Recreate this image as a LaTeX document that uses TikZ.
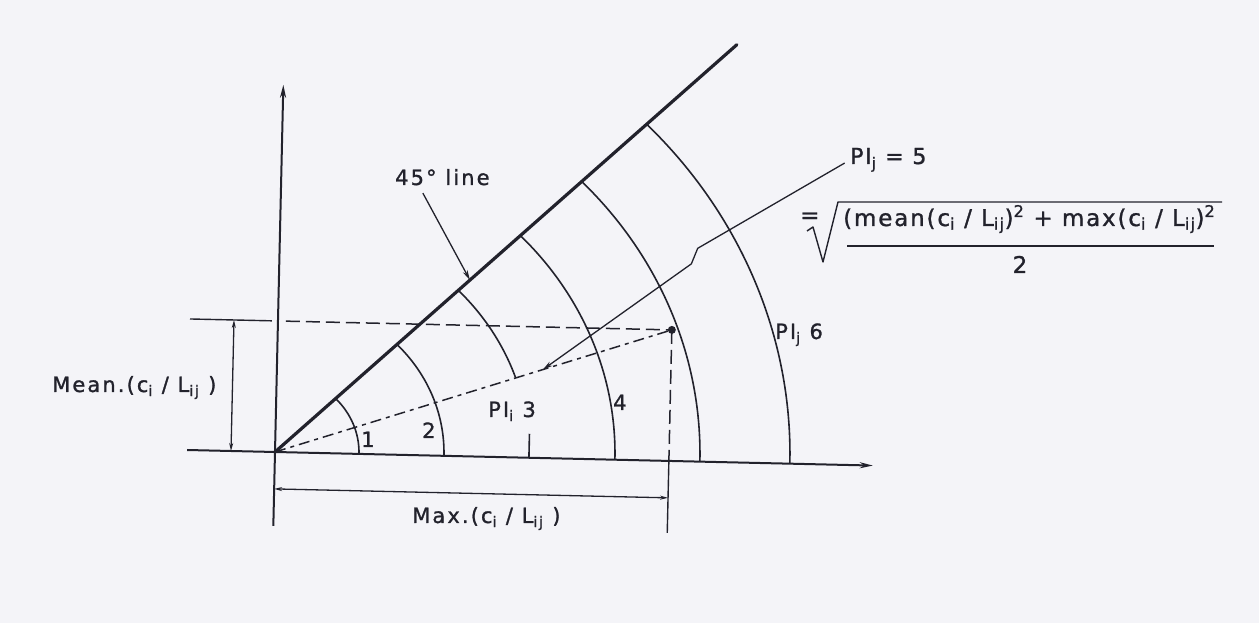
\documentclass[tikz,border=0pt]{standalone}
\usepackage{fontspec}
\setmainfont{DejaVu Sans}
\newfontfamily\lettering[LetterSpace=10,FakeBold=1.2]{DejaVu Sans}
\newfontfamily\letteringb[LetterSpace=8,FakeBold=1.2]{DejaVu Sans}
\usetikzlibrary{arrows.meta,calc}
\definecolor{ink}{RGB}{34,34,44}
\definecolor{paper}{RGB}{244,244,248}
\begin{document}
\begin{tikzpicture}[x=1pt,y=1pt,
  txt/.style={inner sep=0pt, text=ink, font=\lettering\fontsize{21}{23}\selectfont},
  bigtxt/.style={inner sep=0pt, text=ink, font=\letteringb\fontsize{22}{24}\selectfont},
  frmtxt/.style={inner sep=0pt, text=ink, font=\letteringb\fontsize{23}{25}\selectfont},
  axisline/.style={draw=ink, line width=2pt, -{Stealth[length=13pt,width=6pt]}},
  arcline/.style={draw=ink, line width=1.6pt},
  dimline/.style={draw=ink, line width=1.3pt, {Stealth[length=8pt,width=4pt]}-{Stealth[length=8pt,width=4pt]}},
  thin/.style={draw=ink, line width=1.4pt},
  dashline/.style={draw=ink, line width=1.5pt, dash pattern=on 14pt off 6pt},
  dashdot/.style={draw=ink, line width=1.5pt, dash pattern=on 11pt off 5pt on 4pt off 5pt},
  leader/.style={draw=ink, line width=1.3pt, -{Stealth[length=10pt,width=5pt]}},
  ]
\useasboundingbox (0,0) rectangle (1259,623);
\fill[paper] (0,0) rectangle (1259,623);

% labels (canvas coordinates)
\node[txt, anchor=base west] (l45) at (395,438) {45° line};
\node[bigtxt, anchor=base west] (pij5) at (850,459) {PI\textsubscript{j} = 5};
\node[frmtxt, anchor=base west] (eq) at (800,400) {=};
\node[frmtxt, anchor=base west] (num) at (843,397) {(mean(c\textsubscript{i} / L\textsubscript{ij})\textsuperscript{2} + max(c\textsubscript{i} / L\textsubscript{ij})\textsuperscript{2}};
\node[frmtxt, anchor=base] (den) at (1020,350) {2};
\node[txt, anchor=base west] (pij6) at (775,284) {PI\textsubscript{j} 6};
\node[txt, anchor=base west] (pii3) at (488,206) {PI\textsubscript{i} 3};
\node[txt, anchor=base west] (n4) at (613,213) {4};
\node[txt, anchor=base west] (n2) at (422,185) {2};
\node[txt, anchor=base west] (n1) at (361,176) {1};
\node[txt, anchor=base west] (mean) at (52,231) {Mean.(c\textsubscript{i} / L\textsubscript{ij} )};
\node[txt, anchor=base west] (max) at (412,100) {Max.(c\textsubscript{i} / L\textsubscript{ij} )};

% radical and fraction bar
\coordinate (r0) at (807,392);
\coordinate (r1) at (813,396);
\coordinate (r2) at (823,361);
\coordinate (r3) at (838,421);
\coordinate (r4) at (1222,421);
\draw[thin, line join=round] (r0) -- (r1) -- (r2) -- (r3) -- (r4);
\coordinate (fb0) at (847,377);
\coordinate (fb1) at (1214,377);
\draw[thin] (fb0) -- (fb1);

\begin{scope}[shift={(275,171)}, rotate=-1.3, yscale=0.923]
  \coordinate (O) at (0,0);
  \coordinate (P) at (394,142);
  \coordinate (Xl) at (-88,0);
  \coordinate (Xr) at (598,0);
  \coordinate (Yb) at (0,-80);
  \coordinate (Yt) at (0,398);
  \coordinate (L45) at (45:640);
  \draw[axisline] (Xl) -- (Xr);
  \draw[axisline] (Yb) -- (Yt);
  \draw[draw=ink, line width=3.2pt, line cap=round] (O) -- (L45);
  % arcs
  \draw[arcline] (84,0) arc[start angle=0, end angle=45, radius=84];
  \draw[arcline] (169,0) arc[start angle=0, end angle=45, radius=169];
  \draw[arcline] (19.82:254) arc[start angle=19.82, end angle=45, radius=254];
  \coordinate (t3a) at (254,0);
  \coordinate (t3b) at (254,26);
  \draw[arcline] (t3a) -- (t3b);
  \draw[arcline] (340,0) arc[start angle=0, end angle=45, radius=340];
  \draw[arcline] (425,0) arc[start angle=0, end angle=45, radius=425];
  \draw[arcline] (515,0) arc[start angle=0, end angle=45, radius=515];
  % projections of the point
  \coordinate (Ml) at (-88,142);
  \coordinate (Mm) at (-6,142);
  \coordinate (Md) at (8,142);
  \draw[thin] (Ml) -- (Mm);
  \draw[dashline] (Md) -- (P);
  \coordinate (Pb) at (394,0);
  \coordinate (Pe) at (394,-78);
  \draw[dashline] (P) -- (Pb);
  \draw[thin] (Pb) -- (Pe);
  \draw[dashdot] (O) -- (P);
  \node[circle, fill=ink, inner sep=0pt, minimum size=8pt] (Pdot) at (P) {};
  % dimensions
  \coordinate (da) at (0,-40);
  \coordinate (db) at (394,-40);
  \draw[dimline] (da) -- (db);
  \coordinate (dc) at (-44,0);
  \coordinate (dd) at (-44,142);
  \draw[dimline] (dc) -- (dd);
  % leaders
  \coordinate (a45s) at (142,284);
  \coordinate (a45e) at (191,191);
  \draw[leader] (a45s) -- (a45e);
  \coordinate (k0) at (563,327);
  \coordinate (k1) at (418,231);
  \coordinate (k2) at (412,214);
  \coordinate (k3) at ($(O)!0.675!(P)$);
  \draw[leader, line join=miter] (k0) -- (k1) -- (k2) -- (k3);
\end{scope}
\end{tikzpicture}
\end{document}
